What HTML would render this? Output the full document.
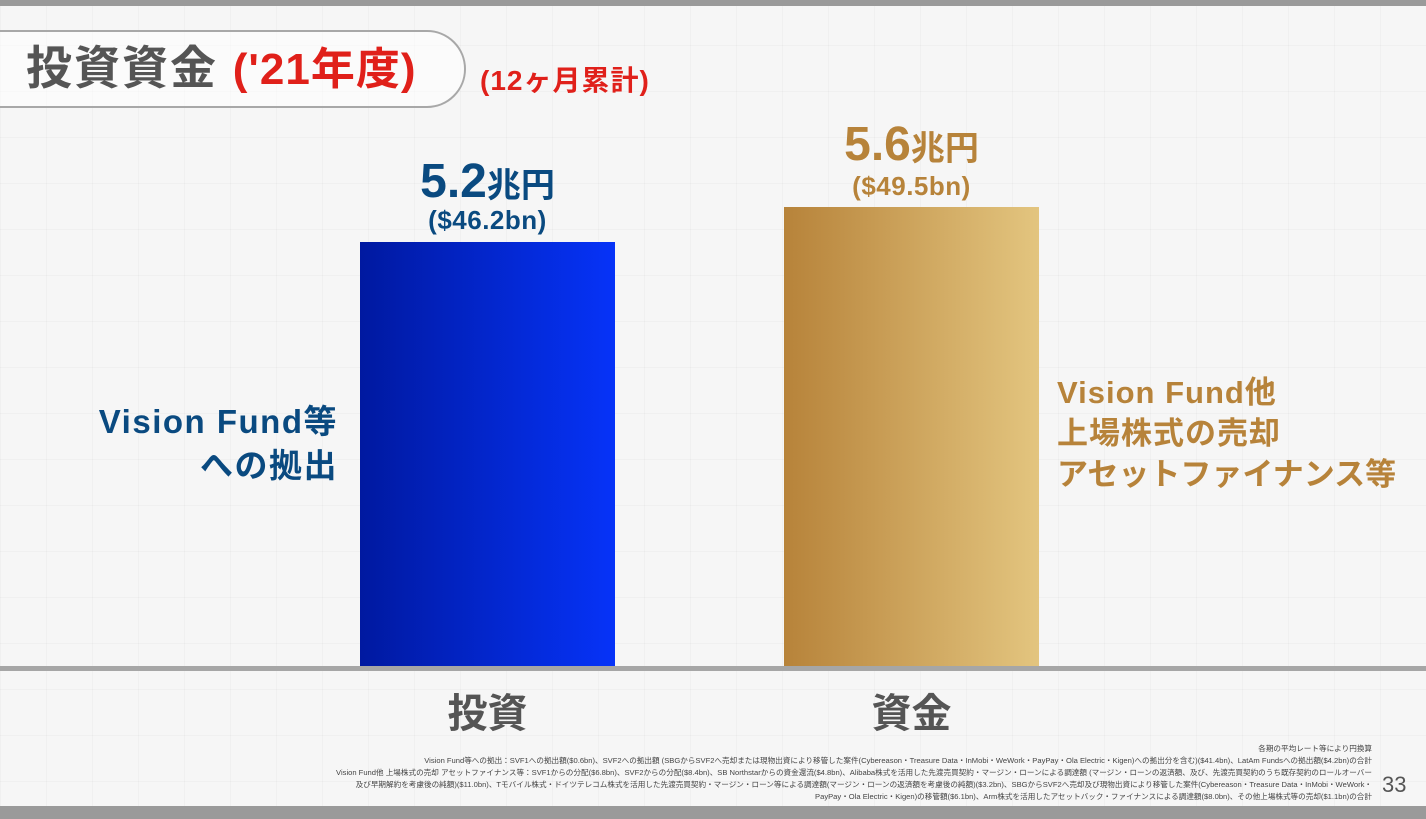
<!DOCTYPE html>
<html><head><meta charset="utf-8"><style>
*{margin:0;padding:0;box-sizing:border-box}
body{width:1426px;height:819px;position:relative;overflow:hidden;background:#f7f7f7;font-family:"Liberation Sans","Noto Sans CJK JP",sans-serif;font-weight:bold}
.a{position:absolute;white-space:nowrap}
.bg{position:absolute;inset:0;background:
linear-gradient(90deg,rgba(0,0,0,0.025) 1px,transparent 1px) 0 0/46px 46px,
linear-gradient(0deg,rgba(0,0,0,0.025) 1px,transparent 1px) 0 0/46px 46px,#f6f6f6}
.fn{font-size:7.6px;font-weight:normal;color:#444;text-align:right;right:54px;line-height:12px}
</style></head><body>
<div class="bg"></div>
<div class="a" style="left:0;top:0;width:1426px;height:6px;background:#9a9a9a"></div>
<div class="a" style="left:0;top:806px;width:1426px;height:13px;background:#9a9a9a"></div>
<div class="a" style="left:-20px;top:30px;width:486px;height:78px;border:2px solid #a8a8a8;border-radius:0 40px 40px 0;background:rgba(255,255,255,0.5)"></div>
<div class="a" style="left:26px;top:38px;font-size:46px;color:#555;line-height:60px;letter-spacing:2px">投資資金 <span style="color:#e0201a;font-size:44px;letter-spacing:1px">('21年度)</span></div>
<div class="a" style="left:480px;top:63px;font-size:28px;color:#e0201a;line-height:36px;letter-spacing:1px">(12ヶ月累計)</div>

<div class="a" style="left:360px;top:242px;width:255px;height:426px;background:linear-gradient(90deg,#0019a0,#0633f8)"></div>
<div class="a" style="left:784px;top:207px;width:255px;height:461px;background:linear-gradient(90deg,#b7833a,#e3c57f)"></div>
<div class="a" style="left:0;top:666px;width:1426px;height:5px;background:#a6a6a6"></div>

<div class="a" style="left:340px;width:295px;text-align:center;top:155px;color:#0a4a80;font-size:48px;line-height:54px">5.2<span style="font-size:34px">兆円</span></div>
<div class="a" style="left:360px;width:255px;text-align:center;top:205px;color:#0a4a80;font-size:26px;line-height:30px;letter-spacing:0.5px">($46.2bn)</div>
<div class="a" style="left:764px;width:295px;text-align:center;top:118px;color:#b7833a;font-size:48px;line-height:54px">5.6<span style="font-size:34px">兆円</span></div>
<div class="a" style="left:784px;width:255px;text-align:center;top:171px;color:#b7833a;font-size:26px;line-height:30px;letter-spacing:0.5px">($49.5bn)</div>

<div class="a" style="right:1088px;top:400px;text-align:right;color:#0a4a80;font-size:33px;line-height:44px;letter-spacing:1.5px">Vision Fund等<br>への拠出</div>
<div class="a" style="left:1057px;top:372px;color:#b7833a;font-size:31px;line-height:41px;letter-spacing:1px">Vision Fund他<br>上場株式の売却<br><span style="letter-spacing:0">アセットファイナンス等</span></div>

<div class="a" style="left:360px;width:255px;text-align:center;top:688px;color:#555;font-size:40px;line-height:52px">投資</div>
<div class="a" style="left:784px;width:255px;text-align:center;top:688px;color:#555;font-size:40px;line-height:52px">資金</div>

<div class="a fn" style="top:743px">各期の平均レート等により円換算<br>Vision Fund等への拠出：SVF1への拠出額($0.6bn)、SVF2への拠出額 (SBGからSVF2へ売却または現物出資により移管した案件(Cybereason・Treasure Data・InMobi・WeWork・PayPay・Ola Electric・Kigen)への拠出分を含む)($41.4bn)、LatAm Fundsへの拠出額($4.2bn)の合計<br>Vision Fund他 上場株式の売却 アセットファイナンス等：SVF1からの分配($6.8bn)、SVF2からの分配($8.4bn)、SB Northstarからの資金還流($4.8bn)、Alibaba株式を活用した先渡売買契約・マージン・ローンによる調達額 (マージン・ローンの返済額、及び、先渡売買契約のうち既存契約のロールオーバー<br>及び早期解約を考慮後の純額)($11.0bn)、Tモバイル株式・ドイツテレコム株式を活用した先渡売買契約・マージン・ローン等による調達額(マージン・ローンの返済額を考慮後の純額)($3.2bn)、SBGからSVF2へ売却及び現物出資により移管した案件(Cybereason・Treasure Data・InMobi・WeWork・<br>PayPay・Ola Electric・Kigen)の移管額($6.1bn)、Arm株式を活用したアセットバック・ファイナンスによる調達額($8.0bn)、その他上場株式等の売却($1.1bn)の合計</div>
<div class="a" style="left:1382px;top:772px;font-size:22px;font-weight:normal;color:#555">33</div>
</body></html>
